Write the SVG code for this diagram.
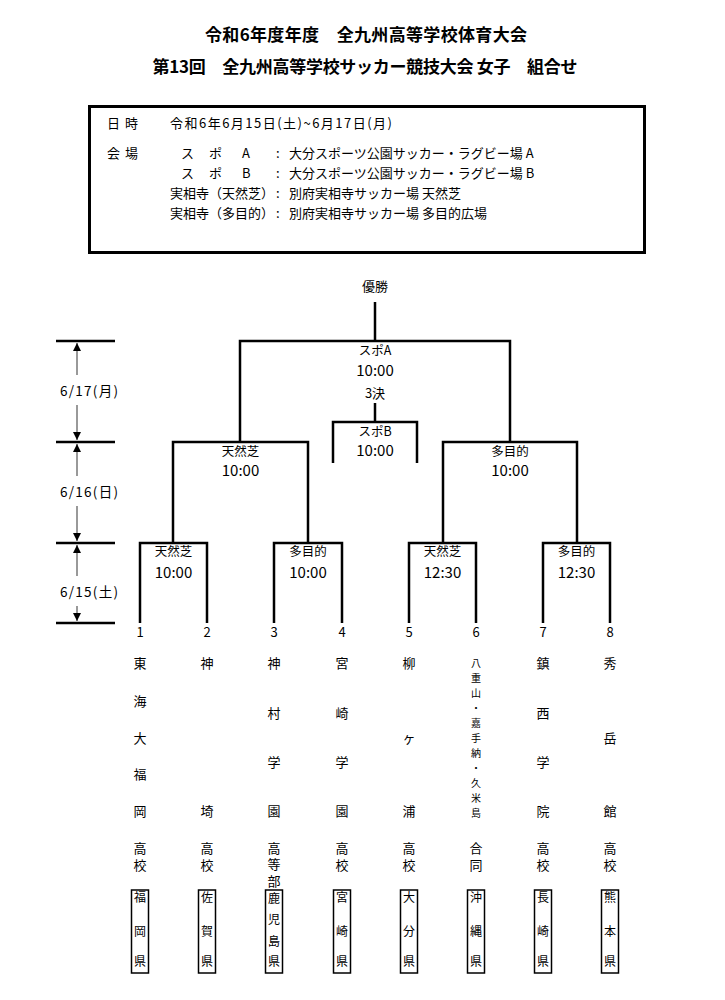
<svg xmlns="http://www.w3.org/2000/svg" width="725" height="1000" viewBox="0 0 725 1000">
<style>
text{font-family:"Noto Sans CJK JP","Noto Sans",sans-serif;fill:#000}
.t{font-size:17px;font-weight:bold;text-anchor:middle}
.i{font-size:13px}
.b{fill:none;stroke:#000;stroke-width:2.5}
.ax{stroke:#555;stroke-width:1.2;fill:none}
.tl{stroke:#000;stroke-width:2.5}
.lab{font-size:12.5px;text-anchor:middle}
.dl{font-size:13.5px;text-anchor:middle}
.tm{font-size:15px;text-anchor:middle}
.n{font-size:13px;text-anchor:middle}
.v{font-size:13px;writing-mode:vertical-rl;letter-spacing:3.5px}
.s{font-size:10px;text-anchor:middle}
.p{font-size:12px;text-anchor:middle}
.pb{fill:none;stroke:#000;stroke-width:1.5}
</style>
<defs>
<marker id="ah" viewBox="0 0 8 10" refX="8" refY="5" markerWidth="8" markerHeight="10" markerUnits="userSpaceOnUse" orient="auto">
<path d="M0,1 L8,5 L0,9 Z" fill="#000"/>
</marker>
</defs>
<rect width="725" height="1000" fill="#fff"/>
<g id="title">
<text class="t" x="366" y="41" textLength="322">令和6年度年度　全九州高等学校体育大会</text>
<text class="t" x="365" y="73" textLength="425">第13回　全九州高等学校サッカー競技大会 女子　組合せ</text>
</g>
<g id="info">
<rect x="89.5" y="106.5" width="555" height="146" fill="none" stroke="#000" stroke-width="3"/>
<text class="i" x="107" y="128" textLength="31">日 時</text>
<text class="i" x="170" y="128" textLength="222">令和6年6月15日(土)~6月17日(月)</text>
<text class="i" x="107" y="157.5" textLength="31">会 場</text>
<text class="i" y="157.5"><tspan x="181">ス</tspan><tspan x="209">ポ</tspan><tspan x="242">A</tspan><tspan x="276">:</tspan><tspan x="289">大分スポーツ公園サッカー・ラグビー場 A</tspan></text>
<text class="i" y="177.5"><tspan x="181">ス</tspan><tspan x="209">ポ</tspan><tspan x="242">B</tspan><tspan x="276">:</tspan><tspan x="289">大分スポーツ公園サッカー・ラグビー場 B</tspan></text>
<text class="i" y="197.5"><tspan x="170">実相寺（天然芝）</tspan><tspan x="276">:</tspan><tspan x="289">別府実相寺サッカー場 天然芝</tspan></text>
<text class="i" y="217.5"><tspan x="170">実相寺（多目的）</tspan><tspan x="276">:</tspan><tspan x="289">別府実相寺サッカー場 多目的広場</tspan></text>
</g>
<g id="timeline">
<line class="tl" x1="56" y1="341" x2="115" y2="341"/>
<line class="tl" x1="56" y1="442" x2="115" y2="442"/>
<line class="tl" x1="56" y1="543" x2="115" y2="543"/>
<line class="tl" x1="56" y1="623" x2="115" y2="623"/>
<line class="ax" x1="77" y1="375" x2="77" y2="343" marker-end="url(#ah)"/>
<line class="ax" x1="77" y1="405" x2="77" y2="440" marker-end="url(#ah)"/>
<line class="ax" x1="77" y1="476" x2="77" y2="444" marker-end="url(#ah)"/>
<line class="ax" x1="77" y1="506" x2="77" y2="541" marker-end="url(#ah)"/>
<line class="ax" x1="77" y1="576" x2="77" y2="545" marker-end="url(#ah)"/>
<line class="ax" x1="77" y1="606" x2="77" y2="621" marker-end="url(#ah)"/>
<text class="dl" x="89" y="396" textLength="58">6/17(月)</text>
<text class="dl" x="89" y="497" textLength="58">6/16(日)</text>
<text class="dl" x="89" y="597" textLength="58">6/15(土)</text>
</g>
<g id="connectors">
<path class="b" d="M375 302 V341"/>
<path class="b" d="M240 442 V341 H510 V442"/>
<path class="b" d="M375 403 V422"/>
<path class="b" d="M333 463 V422 H417 V463"/>
<path class="b" d="M173 543 V442 H308 V543"/>
<path class="b" d="M443 543 V442 H577 V543"/>
<path class="b" d="M140 623 V543 H207 V623"/>
<path class="b" d="M274 623 V543 H342 V623"/>
<path class="b" d="M409 623 V543 H476 V623"/>
<path class="b" d="M543 623 V543 H610 V623"/>
</g>
<g id="final">
<text class="n" x="375" y="291">優勝</text>
<text class="lab" x="375" y="355">スポA</text>
<text class="tm" x="375" y="375.5">10:00</text>
<text class="n" x="375" y="398">3決</text>
</g>
<g id="third">
<text class="lab" x="375" y="435.5">スポB</text>
<text class="tm" x="375" y="455.5">10:00</text>
</g>
<g id="sf1"><text class="lab" x="240.5" y="455.5">天然芝</text><text class="tm" x="240.5" y="475.5">10:00</text></g>
<g id="sf2"><text class="lab" x="510" y="455.5">多目的</text><text class="tm" x="510" y="475.5">10:00</text></g>
<g id="qf1"><text class="lab" x="173.5" y="555.5">天然芝</text><text class="tm" x="173.5" y="577.5">10:00</text></g>
<g id="qf2"><text class="lab" x="308" y="555.5">多目的</text><text class="tm" x="308" y="577.5">10:00</text></g>
<g id="qf3"><text class="lab" x="442.5" y="555.5">天然芝</text><text class="tm" x="442.5" y="577.5">12:30</text></g>
<g id="qf4"><text class="lab" x="576.5" y="555.5">多目的</text><text class="tm" x="576.5" y="577.5">12:30</text></g>
<g id="team1">
<text class="n" x="140" y="637">1</text>
<text class="n" x="140" y="667.5">東</text><text class="n" x="140" y="705.5">海</text><text class="n" x="140" y="742.5">大</text><text class="n" x="140" y="778.5">福</text><text class="n" x="140" y="815.5">岡</text><text class="n" x="140" y="852.5">高</text><text class="n" x="140" y="869.5">校</text>
<rect class="pb" x="131.5" y="890" width="17" height="83"/>
<text class="p" x="140" y="902">福</text><text class="p" x="140" y="936">岡</text><text class="p" x="140" y="966">県</text>
</g>
<g id="team2">
<text class="n" x="207" y="637">2</text>
<text class="n" x="207" y="667.5">神</text><text class="n" x="207" y="815.5">埼</text><text class="n" x="207" y="852.5">高</text><text class="n" x="207" y="869.5">校</text>
<rect class="pb" x="198.5" y="890" width="17" height="83"/>
<text class="p" x="207" y="902">佐</text><text class="p" x="207" y="936">賀</text><text class="p" x="207" y="966">県</text>
</g>
<g id="team3">
<text class="n" x="274" y="637">3</text>
<text class="n" x="274" y="667.5">神</text><text class="n" x="274" y="717.5">村</text><text class="n" x="274" y="766.5">学</text><text class="n" x="274" y="815.5">園</text>
<text class="v" x="274" y="841.5">高等部</text>
<rect class="pb" x="265.5" y="890" width="17" height="83"/>
<text class="p" x="274" y="903">鹿</text><text class="p" x="274" y="924">児</text><text class="p" x="274" y="946">島</text><text class="p" x="274" y="966">県</text>
</g>
<g id="team4">
<text class="n" x="342" y="637">4</text>
<text class="n" x="342" y="667.5">宮</text><text class="n" x="342" y="717.5">崎</text><text class="n" x="342" y="766.5">学</text><text class="n" x="342" y="815.5">園</text><text class="n" x="342" y="852.5">高</text><text class="n" x="342" y="869.5">校</text>
<rect class="pb" x="333.5" y="890" width="17" height="83"/>
<text class="p" x="342" y="902">宮</text><text class="p" x="342" y="936">崎</text><text class="p" x="342" y="966">県</text>
</g>
<g id="team5">
<text class="n" x="409" y="637">5</text>
<text class="n" x="409" y="667.5">柳</text><text class="n" x="409" y="742.5">ヶ</text><text class="n" x="409" y="815.5">浦</text><text class="n" x="409" y="852.5">高</text><text class="n" x="409" y="869.5">校</text>
<rect class="pb" x="400.5" y="890" width="17" height="83"/>
<text class="p" x="409" y="902">大</text><text class="p" x="409" y="936">分</text><text class="p" x="409" y="966">県</text>
</g>
<g id="team6">
<text class="n" x="476" y="637">6</text>
<text class="s" x="476" y="666.5">八</text><text class="s" x="476" y="681.5">重</text><text class="s" x="476" y="696.5">山</text><text class="s" x="476" y="711.5">・</text><text class="s" x="476" y="726.5">嘉</text><text class="s" x="476" y="741.5">手</text><text class="s" x="476" y="756.5">納</text><text class="s" x="476" y="771.5">・</text><text class="s" x="476" y="786.5">久</text><text class="s" x="476" y="801.5">米</text><text class="s" x="476" y="816.5">島</text>
<text class="n" x="476" y="852.5">合</text><text class="n" x="476" y="869.5">同</text>
<rect class="pb" x="467.5" y="890" width="17" height="83"/>
<text class="p" x="476" y="902">沖</text><text class="p" x="476" y="936">縄</text><text class="p" x="476" y="966">県</text>
</g>
<g id="team7">
<text class="n" x="543" y="637">7</text>
<text class="n" x="543" y="667.5">鎮</text><text class="n" x="543" y="717.5">西</text><text class="n" x="543" y="766.5">学</text><text class="n" x="543" y="815.5">院</text><text class="n" x="543" y="852.5">高</text><text class="n" x="543" y="869.5">校</text>
<rect class="pb" x="534.5" y="890" width="17" height="83"/>
<text class="p" x="543" y="902">長</text><text class="p" x="543" y="936">崎</text><text class="p" x="543" y="966">県</text>
</g>
<g id="team8">
<text class="n" x="610" y="637">8</text>
<text class="n" x="610" y="667.5">秀</text><text class="n" x="610" y="742.5">岳</text><text class="n" x="610" y="815.5">館</text><text class="n" x="610" y="852.5">高</text><text class="n" x="610" y="869.5">校</text>
<rect class="pb" x="601.5" y="890" width="17" height="83"/>
<text class="p" x="610" y="902">熊</text><text class="p" x="610" y="936">本</text><text class="p" x="610" y="966">県</text>
</g>
</svg>
